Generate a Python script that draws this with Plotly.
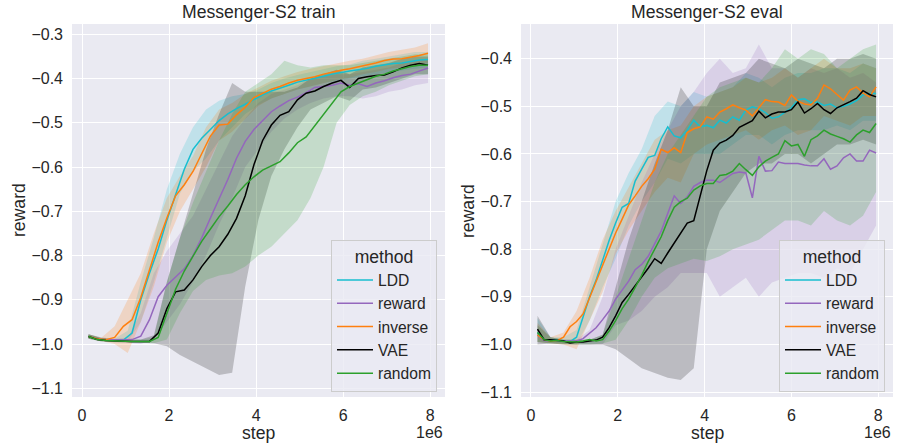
import plotly.graph_objects as go

# ---------------- data ----------------
methods = ["LDD", "reward", "inverse", "VAE", "random"]
colors = {"LDD": "#17becf", "reward": "#9467bd", "inverse": "#ff7f0e", "VAE": "#000000", "random": "#2ca02c"}
fills = {"LDD": "rgba(23,190,207,0.2)", "reward": "rgba(148,103,189,0.2)", "inverse": "rgba(255,127,14,0.2)",
         "VAE": "rgba(0,0,0,0.2)", "random": "rgba(44,160,44,0.2)"}

# step (1e6) for train mean lines
train_step = [0.15, 0.35, 0.55, 0.75, 0.95, 1.15, 1.35, 1.55, 1.75, 1.95,
              2.15, 2.35, 2.55, 2.75, 2.95, 3.15, 3.35, 3.55, 3.75, 3.95,
              4.15, 4.35, 4.55, 4.75, 4.95, 5.15, 5.35, 5.55, 5.75, 5.95,
              6.15, 6.35, 6.55, 6.75, 6.95, 7.15, 7.35, 7.55, 7.75, 7.95]
# step (1e6) for eval mean lines
eval_step = [0.15, 0.30, 0.45, 0.60, 0.75, 0.90, 1.05, 1.20, 1.35, 1.50,
             1.65, 1.80, 1.95, 2.10, 2.25, 2.40, 2.55, 2.70, 2.85, 3.00,
             3.15, 3.30, 3.45, 3.60, 3.75, 3.90, 4.05, 4.20, 4.35, 4.50,
             4.65, 4.80, 4.95, 5.10, 5.25, 5.40, 5.55, 5.70, 5.85, 6.00,
             6.15, 6.30, 6.45, 6.60, 6.75, 6.90, 7.05, 7.20, 7.35, 7.50,
             7.65, 7.80, 7.95]
# step (1e6) for confidence bands
step_band = [0.15, 0.45, 0.75, 1.05, 1.35, 1.65, 1.95, 2.25, 2.55, 2.85,
             3.15, 3.45, 3.75, 4.05, 4.35, 4.65, 4.95, 5.25, 5.55, 5.85,
             6.15, 6.45, 6.75, 7.05, 7.35, 7.65, 7.95]

# ---- train panel ----
train_LDD = [-0.983, -0.988, -0.990, -0.991, -0.991, -0.975, -0.900, -0.840, -0.785, -0.720,
             -0.660, -0.605, -0.560, -0.535, -0.515, -0.495, -0.480, -0.468, -0.458, -0.447,
             -0.437, -0.428, -0.422, -0.415, -0.408, -0.404, -0.400, -0.395, -0.390, -0.386,
             -0.383, -0.380, -0.377, -0.372, -0.369, -0.366, -0.365, -0.362, -0.358, -0.357]
train_reward = [-0.983, -0.988, -0.990, -0.991, -0.991, -0.990, -0.982, -0.945, -0.893, -0.867,
                -0.848, -0.830, -0.800, -0.760, -0.715, -0.672, -0.628, -0.580, -0.542, -0.515,
                -0.495, -0.475, -0.462, -0.450, -0.442, -0.432, -0.420, -0.418, -0.415, -0.410,
                -0.415, -0.412, -0.418, -0.410, -0.405, -0.398, -0.393, -0.390, -0.383, -0.376]
train_inverse = [-0.983, -0.988, -0.990, -0.985, -0.960, -0.945, -0.895, -0.830, -0.770, -0.715,
                 -0.665, -0.640, -0.610, -0.570, -0.530, -0.505, -0.503, -0.482, -0.465, -0.443,
                 -0.433, -0.424, -0.418, -0.410, -0.404, -0.400, -0.396, -0.390, -0.385, -0.381,
                 -0.378, -0.374, -0.369, -0.365, -0.359, -0.356, -0.355, -0.352, -0.348, -0.343]
train_VAE = [-0.983, -0.990, -0.992, -0.993, -0.994, -0.994, -0.994, -0.994, -0.975, -0.920,
             -0.882, -0.878, -0.855, -0.825, -0.800, -0.780, -0.752, -0.716, -0.665, -0.595,
             -0.540, -0.505, -0.483, -0.475, -0.448, -0.433, -0.428, -0.418, -0.410, -0.404,
             -0.420, -0.400, -0.396, -0.393, -0.392, -0.385, -0.376, -0.370, -0.366, -0.370]
train_random = [-0.983, -0.990, -0.992, -0.993, -0.994, -0.994, -0.994, -0.994, -0.985, -0.930,
                -0.876, -0.835, -0.800, -0.768, -0.740, -0.712, -0.688, -0.662, -0.640, -0.622,
                -0.607, -0.598, -0.588, -0.568, -0.545, -0.532, -0.506, -0.480, -0.455, -0.430,
                -0.418, -0.410, -0.402, -0.395, -0.390, -0.383, -0.378, -0.373, -0.370, -0.370]

train_LDD_hi = [-0.978, -0.985, -0.988, -0.970, -0.860, -0.760, -0.650, -0.570, -0.510, -0.470,
                -0.450, -0.440, -0.435, -0.425, -0.410, -0.400, -0.392, -0.385, -0.378, -0.372,
                -0.368, -0.360, -0.355, -0.350, -0.345, -0.340, -0.340]
train_LDD_lo = [-0.988, -0.992, -0.995, -0.995, -0.950, -0.860, -0.760, -0.660, -0.610, -0.580,
                -0.540, -0.510, -0.480, -0.460, -0.445, -0.435, -0.425, -0.418, -0.410, -0.405,
                -0.400, -0.395, -0.390, -0.385, -0.382, -0.378, -0.375]
train_reward_hi = [-0.978, -0.985, -0.988, -0.985, -0.930, -0.840, -0.790, -0.750, -0.710, -0.650,
                   -0.590, -0.530, -0.490, -0.455, -0.435, -0.425, -0.415, -0.400, -0.395, -0.390,
                   -0.390, -0.385, -0.380, -0.375, -0.365, -0.360, -0.355]
train_reward_lo = [-0.988, -0.993, -0.995, -0.997, -1.000, -0.990, -0.950, -0.910, -0.860, -0.800,
                   -0.730, -0.670, -0.600, -0.560, -0.520, -0.490, -0.470, -0.455, -0.445, -0.440,
                   -0.440, -0.445, -0.440, -0.430, -0.425, -0.415, -0.410]
train_inverse_hi = [-0.978, -0.985, -0.960, -0.900, -0.840, -0.750, -0.670, -0.620, -0.575, -0.510,
                    -0.470, -0.455, -0.435, -0.420, -0.405, -0.395, -0.385, -0.378, -0.372, -0.365,
                    -0.360, -0.355, -0.348, -0.340, -0.335, -0.330, -0.320]
train_inverse_lo = [-0.988, -0.993, -1.000, -1.020, -0.950, -0.870, -0.770, -0.700, -0.650, -0.600,
                    -0.540, -0.520, -0.490, -0.462, -0.445, -0.435, -0.425, -0.418, -0.410, -0.403,
                    -0.398, -0.390, -0.385, -0.378, -0.375, -0.370, -0.365]
train_VAE_hi = [-0.978, -0.987, -0.990, -0.990, -0.990, -0.980, -0.860, -0.760, -0.660, -0.560,
                -0.480, -0.410, -0.430, -0.430, -0.430, -0.430, -0.420, -0.400, -0.390, -0.380,
                -0.390, -0.375, -0.370, -0.365, -0.355, -0.350, -0.350]
train_VAE_lo = [-0.988, -0.994, -0.996, -0.997, -0.997, -0.998, -1.005, -1.025, -1.040, -1.055,
                -1.070, -1.065, -0.870, -0.720, -0.620, -0.560, -0.510, -0.470, -0.455, -0.440,
                -0.450, -0.425, -0.420, -0.410, -0.400, -0.390, -0.390]
train_random_hi = [-0.978, -0.987, -0.990, -0.990, -0.990, -0.985, -0.860, -0.760, -0.680, -0.610,
                   -0.540, -0.480, -0.430, -0.410, -0.390, -0.360, -0.370, -0.375, -0.370, -0.370,
                   -0.370, -0.365, -0.360, -0.355, -0.350, -0.345, -0.345]
train_random_lo = [-0.988, -0.994, -0.996, -0.997, -0.997, -0.998, -0.990, -0.930, -0.880, -0.855,
                   -0.845, -0.840, -0.825, -0.800, -0.780, -0.750, -0.720, -0.670, -0.600, -0.500,
                   -0.460, -0.440, -0.430, -0.415, -0.405, -0.395, -0.390]

# ---- eval panel ----
eval_LDD = [-0.975, -0.990, -0.992, -0.990, -0.993, -0.994, -0.985, -0.940, -0.900, -0.865,
            -0.822, -0.782, -0.745, -0.712, -0.704, -0.657, -0.632, -0.607, -0.603, -0.568,
            -0.543, -0.562, -0.566, -0.550, -0.529, -0.543, -0.540, -0.545, -0.529, -0.535,
            -0.522, -0.529, -0.508, -0.501, -0.505, -0.513, -0.525, -0.522, -0.512, -0.503,
            -0.486, -0.484, -0.492, -0.491, -0.498, -0.495, -0.503, -0.500, -0.495, -0.488,
            -0.476, -0.473, -0.473]
eval_reward = [-0.980, -0.992, -0.993, -0.993, -0.994, -0.994, -0.993, -0.988, -0.977, -0.965,
               -0.948, -0.930, -0.905, -0.885, -0.867, -0.843, -0.832, -0.815, -0.790, -0.762,
               -0.725, -0.688, -0.704, -0.690, -0.668, -0.660, -0.655, -0.655, -0.660, -0.650,
               -0.641, -0.638, -0.640, -0.692, -0.605, -0.636, -0.635, -0.617, -0.620, -0.620,
               -0.620, -0.623, -0.625, -0.625, -0.610, -0.632, -0.625, -0.608, -0.600, -0.615,
               -0.615, -0.592, -0.598]
eval_inverse = [-0.980, -0.990, -0.993, -0.992, -0.985, -0.963, -0.952, -0.936, -0.902, -0.868,
                -0.834, -0.800, -0.766, -0.737, -0.707, -0.688, -0.668, -0.652, -0.632, -0.590,
                -0.597, -0.587, -0.597, -0.555, -0.547, -0.543, -0.522, -0.527, -0.512, -0.505,
                -0.497, -0.503, -0.508, -0.520, -0.502, -0.486, -0.490, -0.491, -0.498, -0.476,
                -0.489, -0.495, -0.497, -0.483, -0.455, -0.463, -0.475, -0.487, -0.466, -0.459,
                -0.472, -0.480, -0.459]
eval_VAE = [-0.968, -0.990, -0.990, -0.992, -0.993, -0.997, -0.995, -0.995, -0.993, -0.991,
            -0.985, -0.965, -0.940, -0.912, -0.895, -0.877, -0.857, -0.840, -0.820, -0.830,
            -0.808, -0.787, -0.765, -0.745, -0.740, -0.690, -0.635, -0.592, -0.577, -0.571,
            -0.561, -0.544, -0.537, -0.530, -0.510, -0.524, -0.516, -0.512, -0.512, -0.507,
            -0.491, -0.514, -0.505, -0.494, -0.507, -0.515, -0.503, -0.497, -0.490, -0.483,
            -0.467, -0.475, -0.480]
eval_random = [-0.975, -0.990, -0.993, -0.992, -0.994, -0.995, -0.995, -0.993, -0.990, -0.993,
               -0.990, -0.972, -0.950, -0.925, -0.905, -0.880, -0.855, -0.826, -0.800, -0.774,
               -0.740, -0.712, -0.700, -0.693, -0.676, -0.667, -0.662, -0.662, -0.645, -0.643,
               -0.636, -0.620, -0.633, -0.645, -0.627, -0.615, -0.607, -0.600, -0.572, -0.583,
               -0.580, -0.605, -0.570, -0.562, -0.550, -0.558, -0.563, -0.568, -0.575, -0.560,
               -0.550, -0.555, -0.536]

eval_LDD_hi = [-0.945, -0.985, -0.985, -0.970, -0.880, -0.790, -0.700, -0.640, -0.590, -0.520,
               -0.490, -0.500, -0.470, -0.480, -0.470, -0.460, -0.430, -0.440, -0.460, -0.440,
               -0.430, -0.430, -0.420, -0.420, -0.430, -0.410, -0.420]
eval_LDD_lo = [-0.995, -0.997, -0.998, -1.000, -0.950, -0.880, -0.820, -0.750, -0.700, -0.660,
               -0.610, -0.620, -0.600, -0.600, -0.600, -0.580, -0.560, -0.560, -0.580, -0.560,
               -0.550, -0.550, -0.550, -0.540, -0.550, -0.530, -0.530]
eval_reward_hi = [-0.960, -0.985, -0.990, -0.990, -0.970, -0.900, -0.800, -0.730, -0.660, -0.600,
                  -0.550, -0.500, -0.470, -0.430, -0.400, -0.430, -0.420, -0.370, -0.420, -0.420,
                  -0.440, -0.420, -0.430, -0.420, -0.440, -0.430, -0.450]
eval_reward_lo = [-0.995, -0.998, -0.998, -1.000, -1.000, -1.000, -0.960, -0.950, -0.930, -0.900,
                  -0.880, -0.850, -0.850, -0.850, -0.900, -0.880, -0.860, -0.900, -0.870, -0.860,
                  -0.850, -0.850, -0.860, -0.840, -0.850, -0.800, -0.750]
eval_inverse_hi = [-0.955, -0.985, -0.975, -0.930, -0.860, -0.780, -0.720, -0.670, -0.620, -0.570,
                   -0.550, -0.540, -0.500, -0.480, -0.470, -0.460, -0.440, -0.450, -0.440, -0.420,
                   -0.440, -0.420, -0.400, -0.420, -0.420, -0.410, -0.420]
eval_inverse_lo = [-0.995, -0.998, -1.000, -1.010, -0.950, -0.890, -0.810, -0.760, -0.720, -0.680,
                   -0.650, -0.660, -0.600, -0.580, -0.570, -0.560, -0.550, -0.570, -0.550, -0.540,
                   -0.560, -0.550, -0.520, -0.530, -0.540, -0.520, -0.520]
eval_VAE_hi = [-0.940, -0.985, -0.990, -0.990, -0.990, -0.980, -0.880, -0.780, -0.700, -0.620,
               -0.550, -0.460, -0.500, -0.500, -0.450, -0.440, -0.430, -0.400, -0.410, -0.420,
               -0.400, -0.410, -0.420, -0.400, -0.400, -0.390, -0.400]
eval_VAE_lo = [-1.000, -0.998, -1.000, -1.000, -1.000, -1.000, -1.010, -1.030, -1.050, -1.060,
               -1.070, -1.075, -1.050, -0.800, -0.720, -0.680, -0.640, -0.620, -0.620, -0.600,
               -0.600, -0.620, -0.600, -0.580, -0.580, -0.570, -0.580]
eval_random_hi = [-0.960, -0.985, -0.990, -0.990, -0.990, -0.980, -0.900, -0.820, -0.740, -0.660,
                  -0.600, -0.560, -0.520, -0.480, -0.460, -0.450, -0.440, -0.450, -0.420, -0.380,
                  -0.400, -0.380, -0.390, -0.420, -0.400, -0.380, -0.370]
eval_random_lo = [-0.995, -0.998, -0.999, -1.000, -1.000, -0.998, -0.990, -0.950, -0.900, -0.860,
                  -0.840, -0.830, -0.820, -0.825, -0.815, -0.800, -0.790, -0.780, -0.760, -0.740,
                  -0.740, -0.750, -0.720, -0.740, -0.750, -0.730, -0.680]

x_tickvals = [0, 2, 4, 6, 8]
x_ticktext = ["0", "2", "4", "6", "8"]
train_yticks = [-0.3, -0.4, -0.5, -0.6, -0.7, -0.8, -0.9, -1.0, -1.1]
train_yticktext = ["\u22120.3", "\u22120.4", "\u22120.5", "\u22120.6", "\u22120.7", "\u22120.8", "\u22120.9", "\u22121.0", "\u22121.1"]
eval_yticks = [-0.4, -0.5, -0.6, -0.7, -0.8, -0.9, -1.0, -1.1]
eval_yticktext = ["\u22120.4", "\u22120.5", "\u22120.6", "\u22120.7", "\u22120.8", "\u22120.9", "\u22121.0", "\u22121.1"]

train_mean = {"LDD": train_LDD, "reward": train_reward, "inverse": train_inverse, "VAE": train_VAE, "random": train_random}
train_hi = {"LDD": train_LDD_hi, "reward": train_reward_hi, "inverse": train_inverse_hi, "VAE": train_VAE_hi, "random": train_random_hi}
train_lo = {"LDD": train_LDD_lo, "reward": train_reward_lo, "inverse": train_inverse_lo, "VAE": train_VAE_lo, "random": train_random_lo}
eval_mean = {"LDD": eval_LDD, "reward": eval_reward, "inverse": eval_inverse, "VAE": eval_VAE, "random": eval_random}
eval_hi = {"LDD": eval_LDD_hi, "reward": eval_reward_hi, "inverse": eval_inverse_hi, "VAE": eval_VAE_hi, "random": eval_random_hi}
eval_lo = {"LDD": eval_LDD_lo, "reward": eval_reward_lo, "inverse": eval_inverse_lo, "VAE": eval_VAE_lo, "random": eval_random_lo}

# ---------------- figure ----------------
FONT = "Liberation Sans, Arial, sans-serif"
TXT = "#262626"
W, H = 898, 448
fig = go.Figure()

panels = [
    ("x", "y", "legend", train_step, train_mean, train_hi, train_lo),
    ("x2", "y2", "legend2", eval_step, eval_mean, eval_hi, eval_lo),
]
for xa, ya, leg, steps, mean, hi, lo in panels:
    # bands first (drawn beneath all lines)
    for m in methods:
        fig.add_trace(go.Scatter(
            x=step_band + step_band[::-1], y=hi[m] + lo[m][::-1],
            fill="toself", fillcolor=fills[m], line=dict(width=0),
            mode="lines", hoverinfo="skip", showlegend=False, xaxis=xa, yaxis=ya))
    for m in methods:
        fig.add_trace(go.Scatter(
            x=steps, y=mean[m], mode="lines", name=m,
            line=dict(color=colors[m], width=1.5),
            xaxis=xa, yaxis=ya, legend=leg, showlegend=True))

axis_common = dict(showgrid=True, gridcolor="white", gridwidth=1, zeroline=False, automargin=False,
                   showline=False, ticks="", ticklen=0, tickfont=dict(family=FONT, size=16, color=TXT))


def px(x):
    return x / W


def py(y):
    return 1 - y / H


L1, R1, L2, R2, T, B = 72, 445, 521, 893, 24, 397
xdom1 = [px(L1), px(R1)]
xdom2 = [px(L2), px(R2)]
ydom = [py(B), py(T)]

legend_style = dict(xanchor="right", yanchor="bottom",
                    bgcolor="rgba(234,234,242,0.8)", bordercolor="#cccccc", borderwidth=1,
                    title=dict(text="method", side="top center", font=dict(size=17.6)),
                    font=dict(family=FONT, size=15.6, color=TXT), tracegroupgap=0, itemwidth=36)

annotations = []
for (l, r), title in [((L1, R1), "Messenger-S2 train"), ((L2, R2), "Messenger-S2 eval")]:
    annotations.append(dict(text=title, x=px((l + r) / 2), y=py(12.5), xref="paper", yref="paper",
                            showarrow=False, font=dict(size=17.6, color=TXT), xanchor="center", yanchor="middle"))
    annotations.append(dict(text="step", x=px((l + r) / 2), y=py(433), xref="paper", yref="paper",
                            showarrow=False, font=dict(size=17.6, color=TXT), xanchor="center", yanchor="middle"))
    annotations.append(dict(text="1e6", x=px(r), y=py(432), xref="paper", yref="paper",
                            showarrow=False, font=dict(size=16, color=TXT), xanchor="right", yanchor="middle"))
    annotations.append(dict(text="reward", x=px(l - 53.5), y=py((T + B) / 2), xref="paper", yref="paper",
                            textangle=-90, showarrow=False, font=dict(size=17.6, color=TXT),
                            xanchor="center", yanchor="middle"))

fig.update_layout(
    width=W, height=H,
    margin=dict(l=0, r=0, t=0, b=0),
    paper_bgcolor="white", plot_bgcolor="#EAEAF2",
    font=dict(family=FONT, size=16, color=TXT),
    xaxis=dict(domain=xdom1, range=[-0.23, 8.34], tickvals=x_tickvals, ticktext=x_ticktext,
               anchor="y", ticklabelstandoff=7, **axis_common),
    yaxis=dict(domain=ydom, range=[-1.1197, -0.2767], tickvals=train_yticks, ticktext=train_yticktext,
               anchor="x", ticklabelstandoff=8, **axis_common),
    xaxis2=dict(domain=xdom2, range=[-0.23, 8.34], tickvals=x_tickvals, ticktext=x_ticktext,
                anchor="y2", ticklabelstandoff=7, **axis_common),
    yaxis2=dict(domain=ydom, range=[-1.1105, -0.327], tickvals=eval_yticks, ticktext=eval_yticktext,
                anchor="x2", ticklabelstandoff=8, **axis_common),
    legend=dict(x=px(437), y=py(391.5), **legend_style),
    legend2=dict(x=px(885), y=py(391.5), **legend_style),
    showlegend=True,
    annotations=annotations,
)

# the page body has a default 8px margin; remove it so the figure fills the window exactly
fig.write_html("out.html", config={"displayModeBar": False},
               post_script="document.body.style.margin='0px';")
